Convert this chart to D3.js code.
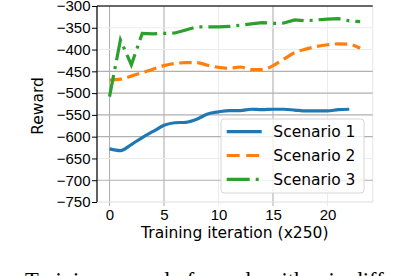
<!DOCTYPE html>
<html>
<head>
<meta charset="utf-8">
<script src="https://cdn.jsdelivr.net/npm/d3@7"></script>
<style>
  body { margin: 0; background: #fff; }
  svg { display: block; font-family: "DejaVu Sans", sans-serif; }
</style>
</head>
<body>
<svg id="chart" width="394" height="276"></svg>
<script>
// values
var iterations = d3.range(0, 24);
var scenario1 = [-628, -632, -618, -602, -588, -574, -568, -567, -560, -548, -543, -540,
                 -540, -537, -538, -537, -537, -539, -541, -541, -541, -538, -537];
var scenario2 = [-470, -468, -461, -453, -445, -437, -432, -430, -430, -436, -441, -443,
                 -440, -446, -446, -437, -422, -407, -399, -393, -389, -387, -388, -397];
var scenario3 = [-508, -378, -435, -363, -364, -363, -362, -355, -348, -348, -348, -347,
                 -344, -341, -338, -340, -339, -332, -334, -332, -330, -329, -334, -336];
var seriesNames = ["Scenario 1", "Scenario 2", "Scenario 3"];
var xTicks = [0, 5, 10, 15, 20];
var yTicks = [-750, -700, -650, -600, -550, -500, -450, -400, -350, -300];

var svg = d3.select("#chart");

var x_scale = d3.scaleLinear().domain([-1.15, 24.15]).range([97, 372.7]);
var y_scale = d3.scaleLinear().domain([-750, -300]).range([202, 6]);

// some grid lines come out faint in the reference picture
var faintX = [10, 20];
var faintY = [-350, -400, -650, -750];

function gridColor(faint) {
    return faint ? "#ececec" : "#b0b0b0";
}

var styles = [
    {color: "#1f77b4", dash: null, curve: d3.curveMonotoneX},
    {color: "#ff7f0e", dash: "12.5,5.5", curve: d3.curveMonotoneX},
    {color: "#2ca02c", dash: "22,6,3,6", curve: d3.curveLinear}
];
var allSeries = [scenario1, scenario2, scenario3];

// frame edges (right and bottom are light in the picture)
svg.append("rect")
    .attr("x", 97).attr("y", 6)
    .attr("width", 372.7 - 97).attr("height", 196)
    .attr("fill", "none").attr("stroke", "#e4e4e4").attr("stroke-width", 1);

// grid
svg.append("g").selectAll("line")
    .data(xTicks)
    .enter()
    .append("line")
    .attr("x1", function(d){return x_scale(d);})
    .attr("x2", function(d){return x_scale(d);})
    .attr("y1", 6)
    .attr("y2", 206)
    .attr("stroke", function(d){return gridColor(faintX.indexOf(d) >= 0);})
    .attr("stroke-width", 1.1);

svg.append("g").selectAll("line")
    .data(yTicks)
    .enter()
    .append("line")
    .attr("x1", 97)
    .attr("x2", 372.7)
    .attr("y1", function(d){return y_scale(d);})
    .attr("y2", function(d){return y_scale(d);})
    .attr("stroke", function(d){return gridColor(faintY.indexOf(d) >= 0);})
    .attr("stroke-width", 1.1);

// lines
allSeries.forEach(function(values, i) {
    var line = d3.line()
        .x(function(d, j){return x_scale(iterations[j]);})
        .y(function(d){return y_scale(d);})
        .curve(styles[i].curve);
    svg.append("path")
        .datum(values)
        .attr("d", line)
        .attr("fill", "none")
        .attr("stroke", styles[i].color)
        .attr("stroke-width", 3.2)
        .attr("stroke-dasharray", styles[i].dash);
});

// axes
var xAxis = svg.append("g")
    .attr("transform", "translate(0,202)")
    .call(d3.axisBottom(x_scale).tickValues(xTicks).tickSize(0).tickPadding(7).tickFormat(d3.format("d")));
xAxis.select(".domain").remove();
xAxis.selectAll("text").attr("font-size", 15).attr("fill", "#000");

var yAxis = svg.append("g")
    .attr("transform", "translate(97,0)")
    .call(d3.axisLeft(y_scale).tickValues(yTicks).tickSize(5).tickPadding(1.5).tickFormat(d3.format("d")));
yAxis.select(".domain").remove();
yAxis.selectAll("line").attr("stroke", "#000").attr("stroke-width", 1);
yAxis.selectAll("text").attr("font-size", 15).attr("fill", "#000");

// black spines: left and top
svg.append("line").attr("x1", 97).attr("x2", 97).attr("y1", 6).attr("y2", 202)
    .attr("stroke", "#000").attr("stroke-width", 1.2);
svg.append("line").attr("x1", 97).attr("x2", 372.7).attr("y1", 6).attr("y2", 6)
    .attr("stroke", "#000").attr("stroke-width", 1.2);

// axis titles
svg.append("text")
    .attr("x", 234.8).attr("y", 238)
    .attr("text-anchor", "middle")
    .attr("font-size", 15.5)
    .text("Training iteration (x250)");

svg.append("text")
    .attr("transform", "translate(43,106) rotate(-90)")
    .attr("text-anchor", "middle")
    .attr("font-size", 15.5)
    .text("Reward");

// legend
var legend = svg.append("g");
legend.append("rect")
    .attr("x", 221).attr("y", 119)
    .attr("width", 143).attr("height", 74)
    .attr("rx", 3)
    .attr("fill", "#fff").attr("fill-opacity", 0.8)
    .attr("stroke", "#d6d6d6");

seriesNames.forEach(function(name, i) {
    var cy = 131.7 + i * 23.8;
    legend.append("line")
        .attr("x1", 226.7).attr("x2", 261.7)
        .attr("y1", cy).attr("y2", cy)
        .attr("stroke", styles[i].color)
        .attr("stroke-width", 3.2)
        .attr("stroke-dasharray", i == 2 ? "23,6,3,6" : (i == 1 ? "13,6.5" : null));
    legend.append("text")
        .attr("x", 273.3).attr("y", cy + 5.5)
        .attr("font-size", 15.5)
        .text(name);
});

// caption of the paper figure, mostly cut off at the bottom
svg.append("text")
    .attr("x", 25).attr("y", 287.5)
    .attr("font-family", "'Liberation Serif', serif")
    .attr("font-size", 22.5)
    .text("Training reward of our algorithm in different scenarios");
</script>
</body>
</html>
